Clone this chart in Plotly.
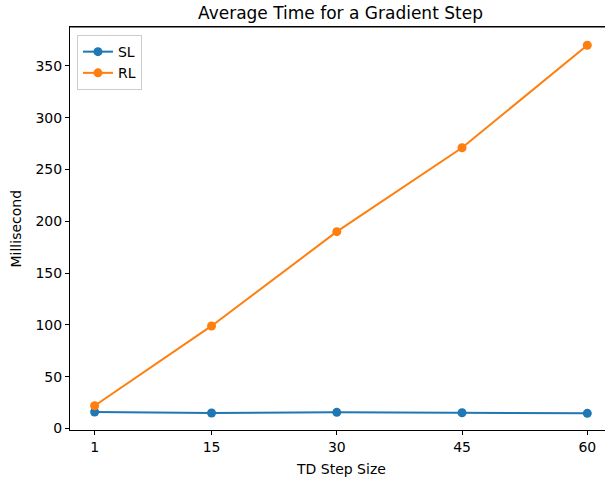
import plotly.graph_objects as go

td_steps = [1, 15, 30, 45, 60]
sl_ms = [15.9, 15.0, 15.6, 15.2, 14.6]
rl_ms = [22.0, 99.0, 190.0, 271.0, 370.0]
x_ticks = [1, 15, 30, 45, 60]
y_ticks = [0, 50, 100, 150, 200, 250, 300, 350]

FONT = "DejaVu Sans"
fig = go.Figure()
fig.add_trace(go.Scatter(x=td_steps, y=sl_ms, name="SL", mode="lines+markers",
                         line=dict(color="#1f77b4", width=2),
                         marker=dict(color="#1f77b4", size=9)))
fig.add_trace(go.Scatter(x=td_steps, y=rl_ms, name="RL", mode="lines+markers",
                         line=dict(color="#ff7f0e", width=2),
                         marker=dict(color="#ff7f0e", size=9)))

fig.update_layout(
    width=605, height=483,
    margin=dict(l=70, r=0, t=27, b=53),
    paper_bgcolor="white", plot_bgcolor="white",
    font=dict(family=FONT, size=14, color="black"),
    showlegend=True,
    legend=dict(x=0.013, y=0.98, xanchor="left", yanchor="top",
                bgcolor="rgba(255,255,255,0.8)", bordercolor="#cccccc", borderwidth=1,
                font=dict(size=14), tracegroupgap=0, entrywidth=78, entrywidthmode="pixels"),
    xaxis=dict(range=[-1.95, 62.12], tickvals=x_ticks, showgrid=False, zeroline=False,
               showline=True, linecolor="black", linewidth=1, mirror=True,
               ticks="outside", ticklen=4, tickcolor="black"),
    yaxis=dict(range=[-1.45, 387.6], tickvals=y_ticks, showgrid=False, zeroline=False,
               showline=True, linecolor="black", linewidth=1, mirror=False,
               ticks="outside", ticklen=4, tickcolor="black"),
    shapes=[dict(type="line", xref="paper", yref="paper", x0=0, x1=1, y0=1, y1=1,
                 line=dict(color="black", width=1))],
    annotations=[
        dict(text="Average Time for a Gradient Step", xref="paper", yref="paper",
             x=0.5065, y=1, yshift=2, xanchor="center", yanchor="bottom",
             showarrow=False, font=dict(size=17)),
        dict(text="TD Step Size", xref="paper", yref="paper", x=0.5065, y=0, yshift=-29,
             xanchor="center", yanchor="top", showarrow=False, font=dict(size=14)),
        dict(text="Millisecond", xref="paper", yref="paper", x=0, xshift=-45, y=0.5,
             textangle=-90, xanchor="right", yanchor="middle", showarrow=False,
             font=dict(size=14)),
    ],
)
fig.write_html("out.html", config={"displayModeBar": False},
               post_script="document.body.style.margin='0';document.body.style.padding='0';")
